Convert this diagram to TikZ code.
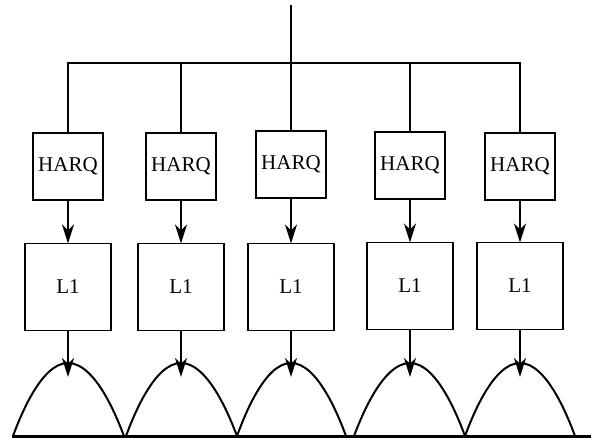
\documentclass[tikz,border=0pt]{standalone}
\usepackage{fontspec}
\setmainfont{Liberation Serif}
\usetikzlibrary{arrows.meta}
\tikzset{
  harq/.style={draw, line width=0.8pt, inner sep=0pt, outer sep=0pt,
              minimum width=35pt, minimum height=33.5pt, font=\fontsize{10.5}{12}\selectfont},
  layer/.style={draw, line width=0.9pt, inner sep=0pt, outer sep=0pt,
              minimum width=43pt, minimum height=43.5pt, font=\fontsize{10.5}{12}\selectfont},
  wire/.style={line width=1pt},
  down/.style={-{Stealth[length=9.5pt,width=6pt,inset=3pt]}, line width=1pt},
}

\begin{document}
\begin{tikzpicture}[x=0.5pt,y=-0.5pt]
    \useasboundingbox (0,0) rectangle (591,438);
    \coordinate (top) at (291,5);
    \coordinate (bus) at (291,63);
    \draw[wire] (top) -- (bus);
    % one branch per column: x / HARQ y / L1 y / arch left / arch right
    \foreach \x/\hy/\ly/\a/\b [count=\i] in {68/166.5/287/13/124,181/166.5/287/126/237,
        291/164.5/287/237/346,410/165.5/286/354/465,520/166.5/286/465/575} {
      \node[harq] (h\i) at (\x,\hy) {HARQ};
      \node[layer] (l\i) at (\x,\ly) {L1};
      \coordinate (p\i) at (\x,363);
      \coordinate (t\i) at (\x,377);
      \coordinate (a\i) at (\a,436);
      \coordinate (b\i) at (\b,436);
      \draw[wire] (h\i.north) |- (bus);
      \draw[down] (h\i) -- (l\i);
      \draw[down] (l\i) -- (t\i);
      \draw[wire] (a\i) parabola bend (p\i) (b\i);
    }
    \coordinate (gl) at (12,436.5);
    \coordinate (gr) at (591,436.5);
    \draw[line width=1.2pt] (gl) -- (gr);
  \end{tikzpicture}
\end{document}
